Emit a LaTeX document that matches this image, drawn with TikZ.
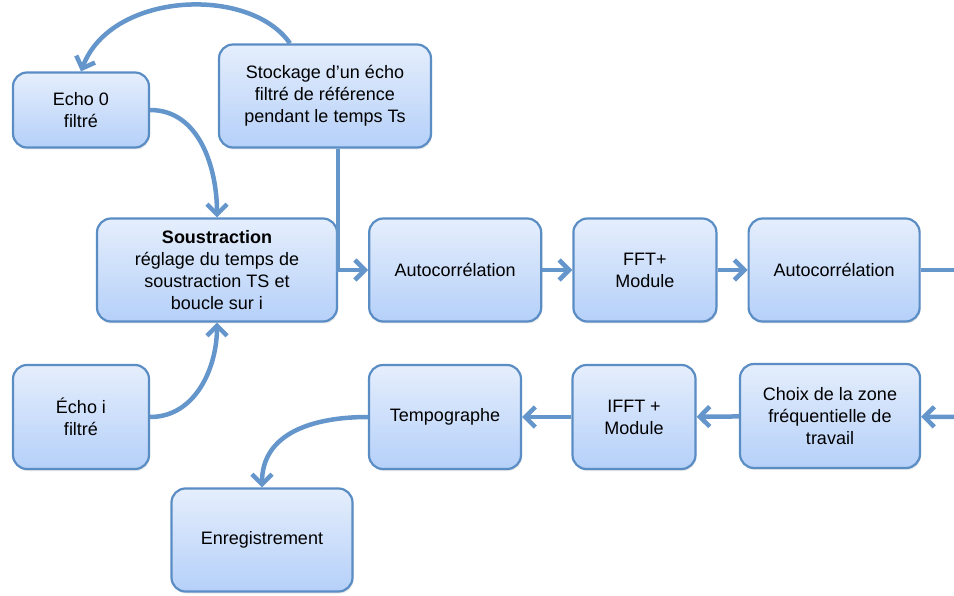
\documentclass[tikz,border=0pt]{standalone}
\usepackage{fontspec}
\setmainfont{Liberation Sans}
\usetikzlibrary{arrows.meta,positioning,shadows}
\definecolor{bordure}{HTML}{5B8DC5}
\definecolor{fleche}{HTML}{6496CC}
\definecolor{hautbleu}{HTML}{E5EEFC}
\definecolor{basbleu}{HTML}{B5D0F9}

\begin{document}
\begin{tikzpicture}[x=1pt,y=1pt,font=\fontsize{18}{22}\selectfont,>={Straight Barb[length=10pt,width=20pt]},node distance=30pt]
  \tikzset{etape/.style={draw=bordure,line width=2.2pt,rounded corners=14pt,align=center,top color=hautbleu,bottom color=basbleu,minimum height=103pt,drop shadow={opacity=0.18,shadow xshift=1pt,shadow yshift=-2pt}},
    lien/.style={draw=fleche,line width=4.5pt}}
  \useasboundingbox (0,0) rectangle (954,-596);
  % ligne du haut
  \node[etape,minimum width=240pt] (sous) at (217,-270) {\textbf{Soustraction}\\réglage du temps de\\soustraction TS et\\boucle sur i};
  \node[etape,minimum width=172pt,right=of sous] (auto1) {Autocorrélation};
  \node[etape,minimum width=143pt,right=of auto1] (fft) {FFT+\\Module};
  \node[etape,minimum width=171pt,right=of fft] (auto2) {Autocorrélation};
  % entrees
  \node[etape,minimum width=136pt,minimum height=75pt] (echo0) at (81,-110) {Echo 0\\filtré};
  \node[etape,minimum width=212pt] (stock) at (325,-96) {Stockage d’un écho\\filtré de référence\\pendant le temps Ts};
  \node[etape,minimum width=136pt,minimum height=104pt] (echoi) at (81,-417) {Écho i\\filtré};
  % ligne du bas
  \node[etape,minimum width=180pt,minimum height=104pt] (choix) at (830,-416) {Choix de la zone\\fréquentielle de\\travail};
  \node[etape,minimum width=123pt,minimum height=104pt] (ifft) at (634,-417) {IFFT +\\Module};
  \node[etape,minimum width=152pt,minimum height=104pt] (tempo) at (445,-417) {Tempographe};
  \node[etape,minimum width=181pt] (enreg) at (262,-540) {Enregistrement};
  \coordinate (sortie) at (956,-270);
  \coordinate (retour) at (956,-417);
  % liaisons
  \draw[lien,->] ([xshift=-35pt]stock.north) .. controls +(-40,58) and +(30,80) .. (echo0.north);
  \draw[lien,->] (echo0.east) to[out=0,in=90] (sous.north);
  \draw[lien,->] (echoi.east) to[out=0,in=-90] (sous.south);
  \draw[lien,->] ([xshift=13pt]stock.south) |- (auto1.west);
  \draw[lien,->] (auto1) -- (fft);
  \draw[lien,->] (fft) -- (auto2);
  \draw[lien] (auto2) -- (sortie);
  \draw[lien,->] (retour) -- (choix);
  \draw[lien,->] (choix) -- (ifft);
  \draw[lien,->] (ifft) -- (tempo);
  \draw[lien,->] (tempo.west) to[out=180,in=90,looseness=1.1] (enreg.north);
\end{tikzpicture}
\end{document}
